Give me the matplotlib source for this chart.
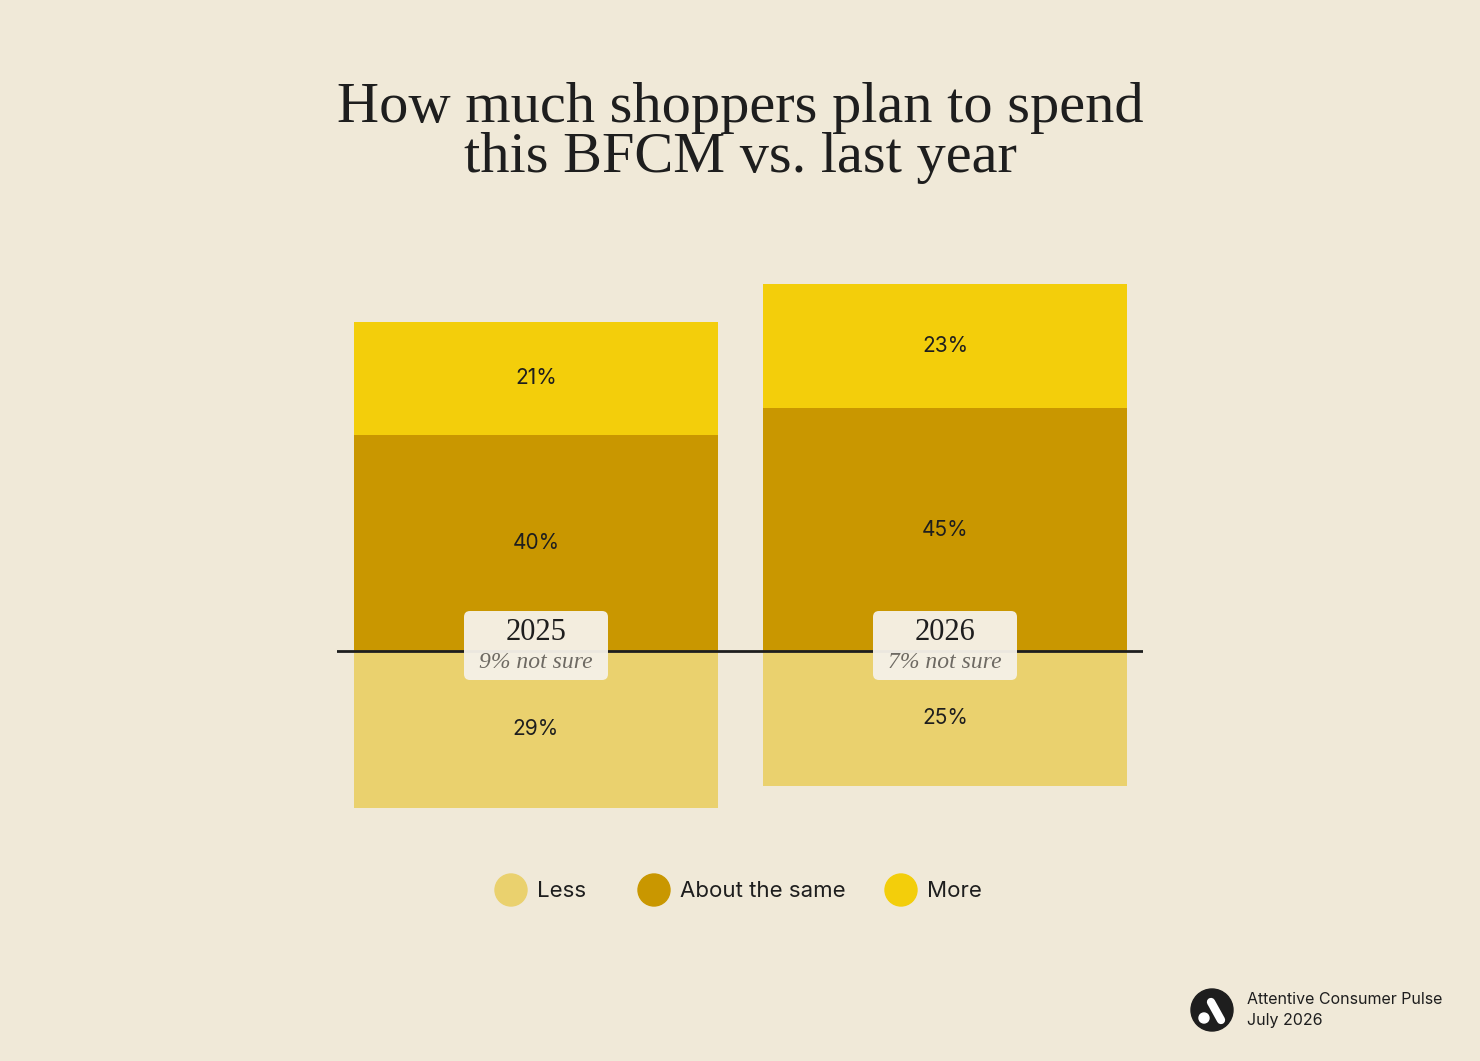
import matplotlib.pyplot as plt
import numpy as np
from matplotlib.patches import Circle, FancyBboxPatch

years = ['2025', '2026']
not_sure = ['9% not sure', '7% not sure']
less = [29, 25]
same = [40, 45]
more = [21, 23]
series_names = ['Less', 'About the same', 'More']

BG = '#F0E9D8'
C_LESS = '#EAD16E'
C_SAME = '#C99700'
C_MORE = '#F3CE0B'
INK = '#1E1E1E'
SANS = ['Inter', 'DejaVu Sans']
SERIF = ['Liberation Serif', 'DejaVu Serif']

W, H = 1480, 1061
fig = plt.figure(figsize=(W / 100, H / 100), dpi=100, facecolor=BG)

# main chart axes, placed in pixel terms
px_per_pt = 5.4
base_px = 651
top_px, bot_px = 200, 850
ax = fig.add_axes([337 / W, 1 - bot_px / H, 806 / W, (bot_px - top_px) / H])
ax.set_facecolor('none')
ax.set_ylim(-(bot_px - base_px) / px_per_pt, (base_px - top_px) / px_per_pt)
ax.set_xlim(-199 / 409, 1 + 198 / 409)
ax.axis('off')

x = np.arange(len(years))
bw = 364 / 409
less_neg = -np.array(less)
ax.bar(x, less_neg, bw, color=C_LESS, label='Less')
ax.bar(x, same, bw, color=C_SAME, label='About the same')
ax.bar(x, more, bw, bottom=same, color=C_MORE, label='More')
ax.axhline(0, color=INK, lw=2, zorder=3)

# box size in data units (x unit = 409 px, y unit = 5.4 px)
aspect = 409 / px_per_pt
box_w = 144 / 409
box_lo, box_hi = -29 / px_per_pt, 40 / px_per_pt

for i in range(len(years)):
    ax.text(x[i], less_neg[i] / 2, f'{less[i]}%', ha='center', va='center',
            fontsize=15, color=INK, family=SANS)
    ax.text(x[i], same[i] / 2, f'{same[i]}%', ha='center', va='center',
            fontsize=15, color=INK, family=SANS)
    ax.text(x[i], same[i] + more[i] / 2, f'{more[i]}%', ha='center', va='center',
            fontsize=15, color=INK, family=SANS)

    box = FancyBboxPatch((x[i] - box_w / 2, box_lo), box_w, box_hi - box_lo,
                         boxstyle='round,pad=0,rounding_size=%f' % (6 / 409),
                         mutation_aspect=aspect, fc='#F5F1E8', ec='none',
                         alpha=0.96, zorder=5)
    ax.add_patch(box)
    ax.text(x[i], 18 / px_per_pt, years[i], ha='center', va='center',
            fontsize=22, color=INK, family=SERIF, zorder=6)
    ax.text(x[i], -11 / px_per_pt, not_sure[i], ha='center', va='center',
            fontsize=17, color='#6E6A63', family=SERIF, style='italic', zorder=6)

# overlay in pixel coordinates for title, legend, footer
ov = fig.add_axes([0, 0, 1, 1])
ov.set_xlim(0, W)
ov.set_ylim(H, 0)
ov.axis('off')
ov.patch.set_alpha(0)

ov.text(740, 122, 'How much shoppers plan to spend', ha='center', va='baseline',
        fontsize=42, color=INK, family=SERIF)
ov.text(740, 172, 'this BFCM vs. last year', ha='center', va='baseline',
        fontsize=42, color=INK, family=SERIF)

leg_x = [511, 654, 901]
for lx, name, col in zip(leg_x, series_names, [C_LESS, C_SAME, C_MORE]):
    ov.add_patch(Circle((lx, 890), 16, color=col))
    ov.text(lx + 26, 891, name, ha='left', va='center', fontsize=16,
            color=INK, family=SANS)

# logo
ov.add_patch(Circle((1212, 1010), 21, color=INK))
ov.add_patch(Circle((1204, 1018), 5, color='white'))
ov.plot([1211, 1221], [1002, 1020], color='white', lw=6, solid_capstyle='round')
ov.text(1247, 1000, 'Attentive Consumer Pulse', ha='left', va='center',
        fontsize=11.5, color=INK, family=SANS)
ov.text(1247, 1020, 'July 2026', ha='left', va='center',
        fontsize=11.5, color=INK, family=SANS)

fig.savefig('out.png', dpi=100, facecolor=BG)
